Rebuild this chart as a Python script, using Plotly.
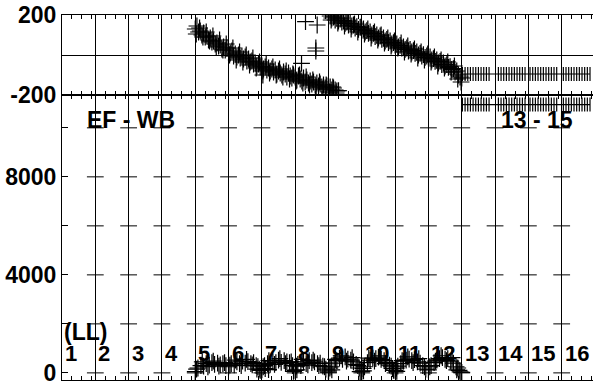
import plotly.graph_objects as go

# ---------------- data ----------------
col_labels = ["1", "2", "3", "4", "5", "6", "7", "8", "9", "10", "11", "12", "13", "14", "15", "16"]
col_pos = [1, 2, 3, 4, 5, 6, 7, 8, 9, 10, 11, 12, 13, 14, 15, 16]

phase_ticks = [-200, 0, 200]
phase_ticktext = ["-200", "", "200"]
amp_ticks = [0, 2000, 4000, 6000, 8000, 10000]
amp_ticktext = ["0", "", "4000", "", "8000", ""]

phase_a_x = [5.00, 5.05, 5.10, 5.15, 5.20, 5.25, 5.30, 5.35, 5.40, 5.45,
             5.50, 5.55, 5.60, 5.65, 5.70, 5.75, 5.80, 5.85, 5.90, 5.95,
             6.05, 6.10, 6.15, 6.20, 6.25, 6.30, 6.35, 6.40, 6.45, 6.50,
             6.55, 6.60, 6.65, 6.70, 6.75, 6.80, 6.85, 6.90, 6.95,
             7.00, 7.05, 7.10, 7.15, 7.20, 7.25, 7.30, 7.35, 7.40, 7.45,
             7.50, 7.55, 7.60, 7.65, 7.70, 7.75, 7.80, 7.85, 7.90, 7.95,
             8.00, 8.05, 8.10, 8.15, 8.20, 8.25, 8.30, 8.35, 8.40, 8.45,
             8.50, 8.55, 8.60, 8.65, 8.70, 8.75, 8.80, 8.85, 8.90, 8.95,
             9.00, 9.05, 9.10, 9.15, 9.20, 9.25, 9.30]
phase_a_y = [130, 145, 115, 120, 100, 110, 90, 95, 75, 85,
             65, 70, 55, 60, 45, 50, 30, 40, 25, 35,
             10, 20, -5, 5, -10, 0, -15, -5, -20, -10,
             -30, -20, -35, -30, -45, -40, -55, -45, -60,
             -55, -70, -60, -75, -65, -80, -70, -85, -75, -95,
             -80, -90, -100, -85, -95, -110, -90, -105, -115, -100,
             -110, -125, -105, -120, -130, -115, -135, -125, -140, -130,
             -145, -135, -150, -140, -155, -145, -160, -150, -165, -155,
             -170, -160, -175, -165, -175, -180, -178]

phase_a2_x = [5.03, 5.13, 5.23, 5.33, 5.43, 5.53, 5.63, 5.73, 5.83, 5.93,
              6.03, 6.13, 6.23, 6.33, 6.43, 6.53, 6.63, 6.73, 6.83, 6.93,
              7.03, 7.13, 7.23, 7.33, 7.43, 7.53, 7.63, 7.73, 7.83, 7.93,
              8.03, 8.13, 8.23, 8.33, 8.43, 8.53, 8.63, 8.73, 8.83, 8.93,
              9.03, 9.13, 9.23]
phase_a2_y = [105, 135, 90, 115, 70, 95, 40, 75, 25, 55,
              0, 35, -25, 15, -35, 0, -50, -15, -65, -35,
              -80, -45, -90, -60, -100, -70, -110, -80, -120, -95,
              -130, -100, -140, -110, -150, -125, -160, -135, -170, -150,
              -185, -160, -190]

phase_b_x = [9.05, 9.10, 9.15, 9.20, 9.25, 9.30, 9.35, 9.40, 9.45,
             9.50, 9.55, 9.60, 9.65, 9.70, 9.75, 9.80, 9.85, 9.90, 9.95,
             10.00, 10.05, 10.10, 10.15, 10.20, 10.25, 10.30, 10.35, 10.40, 10.45,
             10.50, 10.55, 10.60, 10.65, 10.70, 10.75, 10.80, 10.85, 10.90, 10.95,
             11.00, 11.05, 11.10, 11.15, 11.20, 11.25, 11.30, 11.35, 11.40, 11.45,
             11.50, 11.55, 11.60, 11.65, 11.70, 11.75, 11.80, 11.85, 11.90, 11.95,
             12.00, 12.05, 12.10, 12.15, 12.20, 12.25, 12.30, 12.35, 12.40, 12.45,
             12.50, 12.55, 12.60, 12.65, 12.70, 12.75, 12.80, 12.85, 12.90, 12.95,
             13.00]
phase_b_y = [195, 185, 190, 175, 185, 170, 180, 165, 172,
             158, 165, 150, 158, 145, 150, 135, 142, 128, 138,
             125, 130, 115, 122, 108, 115, 100, 108, 92, 100,
             85, 95, 78, 85, 70, 78, 62, 70, 55, 62,
             50, 55, 40, 48, 35, 40, 28, 35, 20, 28,
             15, 22, 8, 15, 0, 8, -5, 2, -12, -5,
             -15, -10, -25, -18, -32, -25, -40, -32, -48, -40,
             -55, -48, -62, -58, -72, -68, -85, -80, -100, -110,
             -115]

phase_b2_x = [9.08, 9.18, 9.28, 9.38, 9.48, 9.58, 9.68, 9.78, 9.88, 9.98,
              10.08, 10.18, 10.28, 10.38, 10.48, 10.58, 10.68, 10.78, 10.88, 10.98,
              11.08, 11.18, 11.28, 11.38, 11.48, 11.58, 11.68, 11.78, 11.88, 11.98,
              12.08, 12.18, 12.28, 12.38, 12.48, 12.58, 12.68, 12.78, 12.88, 12.98]
phase_b2_y = [175, 195, 160, 185, 145, 170, 130, 155, 115, 140,
              105, 130, 85, 115, 75, 100, 60, 85, 45, 70,
              35, 60, 15, 45, 5, 30, -15, 15, -25, 5,
              -35, -10, -55, -25, -65, -35, -85, -55, -120, -135]

phase_out_x = [8.31, 8.66, 8.62, 8.62, 8.19, 7.03]
phase_out_y = [167, 150, 35, 20, -42, -100]

flat_x = [13.02, 13.10, 13.18, 13.26, 13.34, 13.42, 13.50, 13.58, 13.66, 13.74, 13.82,
          14.10, 14.18, 14.26, 14.34, 14.42, 14.50, 14.58, 14.66, 14.74, 14.82, 14.90,
          15.05, 15.13, 15.21, 15.29, 15.37, 15.45, 15.53, 15.61, 15.69, 15.77, 15.85,
          16.05, 16.13, 16.21, 16.29, 16.37, 16.45, 16.53, 16.61, 16.69, 16.77, 16.85]
flat_phase_value = -95
flat_amp_value = 10950

amp_x = [5.00, 5.08, 5.17, 5.25, 5.33, 5.42, 5.50, 5.58, 5.67, 5.75, 5.83, 5.92,
         6.00, 6.08, 6.17, 6.25, 6.33, 6.42, 6.50, 6.58, 6.67, 6.75, 6.83, 6.92,
         7.00, 7.08, 7.17, 7.25, 7.33, 7.42, 7.50, 7.58, 7.67, 7.75, 7.83, 7.92,
         8.00, 8.08, 8.17, 8.25, 8.33, 8.42, 8.50, 8.58, 8.67, 8.75, 8.83, 8.92,
         9.00, 9.08, 9.17, 9.25, 9.33, 9.42, 9.50, 9.58, 9.67, 9.75, 9.83, 9.92,
         10.00, 10.08, 10.17, 10.25, 10.33, 10.42, 10.50, 10.58, 10.67, 10.75, 10.83, 10.92,
         11.00, 11.08, 11.17, 11.25, 11.33, 11.42, 11.50, 11.58, 11.67, 11.75, 11.83, 11.92,
         12.00, 12.08, 12.17, 12.25, 12.33, 12.42, 12.50, 12.58, 12.67, 12.75, 12.83, 12.92,
         13.00]
amp_y = [50, 200, 300, 280, 380, 320, 420, 350, 400, 330, 380, 300,
         250, 380, 330, 450, 380, 480, 400, 460, 380, 420, 300, 150,
         120, 300, 380, 350, 450, 420, 520, 430, 500, 450, 420, 300,
         100, 350, 300, 450, 380, 500, 420, 450, 380, 400, 280, 150,
         80, 250, 400, 500, 600, 550, 650, 560, 520, 450, 350, 200,
         60, 250, 420, 520, 600, 580, 640, 550, 500, 430, 320, 180,
         100, 280, 380, 480, 520, 560, 500, 540, 450, 400, 300, 150,
         120, 300, 420, 520, 580, 620, 550, 580, 480, 400, 250, 100,
         20]

amp2_x = [5.04, 5.21, 5.38, 5.54, 5.71, 5.88,
          6.04, 6.21, 6.38, 6.54, 6.71, 6.88,
          7.04, 7.21, 7.38, 7.54, 7.71, 7.88,
          8.04, 8.21, 8.38, 8.54, 8.71, 8.88,
          9.04, 9.21, 9.38, 9.54, 9.71, 9.88,
          10.04, 10.21, 10.38, 10.54, 10.71, 10.88,
          11.04, 11.21, 11.38, 11.54, 11.71, 11.88,
          12.04, 12.21, 12.38, 12.54, 12.71, 12.88]
amp2_y = [150, 450, 250, 480, 280, 420,
          320, 520, 300, 550, 330, 250,
          250, 500, 350, 580, 380, 450,
          280, 550, 330, 520, 300, 250,
          200, 550, 700, 480, 620, 300,
          180, 600, 480, 700, 380, 280,
          200, 500, 650, 420, 580, 250,
          250, 480, 700, 500, 620, 200]

amp_low_x = [6.85, 6.95, 7.10, 7.20, 7.95, 8.05, 9.00, 9.10, 9.95, 10.05, 10.95, 11.05, 12.85, 12.95]
amp_low_y = [150, 100, 180, 130, 60, 120, 30, 120, 50, 80, 100, 60, 120, 40]

minor_x = [c + f for c in col_pos for f in (0.3, 0.6, 0.9)]
grid_x = col_pos[1:]

# ---------------- figure ----------------
FONT = "Liberation Sans, Arial, sans-serif"
cross = dict(symbol="cross-thin-open", size=12, color="black",
             line=dict(color="black", width=1.2))
vtick = dict(symbol="line-ns-open", size=10, color="black",
             line=dict(color="black", width=1.2))

fig = go.Figure()

# grid "+" decorations in the amplitude panel
gx, gy = [], []
for v in amp_ticks:
    for c in grid_x:
        gx.append(c)
        gy.append(v)
fig.add_trace(go.Scatter(x=gx, y=gy, mode="markers", xaxis="x", yaxis="y",
                         marker=dict(symbol="line-ew-open", size=12, color="black",
                                     line=dict(color="black", width=1)),
                         hoverinfo="skip", showlegend=False))

# phase panel
for xs, ys in ((phase_a_x, phase_a_y), (phase_a2_x, phase_a2_y),
               (phase_b_x, phase_b_y), (phase_b2_x, phase_b2_y),
               (phase_out_x, phase_out_y)):
    fig.add_trace(go.Scatter(x=xs, y=ys, mode="markers", xaxis="x2", yaxis="y2",
                             marker=cross, showlegend=False))
fig.add_trace(go.Scatter(x=flat_x, y=[flat_phase_value] * len(flat_x), mode="lines+markers",
                         xaxis="x2", yaxis="y2",
                         line=dict(color="black", width=1.2), marker=vtick,
                         showlegend=False))

# amplitude panel
for xs, ys in ((amp_x, amp_y), (amp2_x, amp2_y), (amp_low_x, amp_low_y)):
    fig.add_trace(go.Scatter(x=xs, y=ys, mode="markers", xaxis="x", yaxis="y",
                             marker=cross, showlegend=False))
fig.add_trace(go.Scatter(x=flat_x, y=[flat_amp_value] * len(flat_x), mode="lines+markers",
                         xaxis="x", yaxis="y",
                         line=dict(color="black", width=1.2), marker=vtick,
                         showlegend=False))

xcommon = dict(range=[1, 16.94], showline=True, linecolor="black", linewidth=1,
               mirror="ticks", tickmode="array", tickvals=grid_x, showticklabels=False,
               ticks="", showgrid=True, gridcolor="black", gridwidth=1, zeroline=False,
               automargin=False,
               minor=dict(tickmode="array", tickvals=minor_x, ticks="inside", ticklen=4,
                          tickcolor="black", tickwidth=1, showgrid=False))

split = 285 / 365
tickfont = dict(family=FONT, size=23, color="black", weight="bold")

fig.update_layout(
    width=593, height=386,
    margin=dict(l=62, r=0, t=15, b=6),
    paper_bgcolor="white", plot_bgcolor="white",
    showlegend=False,
    xaxis=dict(anchor="y", side="bottom", **xcommon),
    xaxis2=dict(anchor="y2", side="top", matches="x", **xcommon),
    yaxis=dict(domain=[0, split], range=[-290, 11340], tickmode="array",
               tickvals=amp_ticks, ticktext=amp_ticktext, ticks="inside", ticklen=6,
               tickcolor="black", showline=True, linecolor="black", showgrid=False,
               zeroline=False, tickfont=tickfont, automargin=False,
               ticklabeloverflow="allow"),
    yaxis2=dict(domain=[split, 1], range=[-200, 200], tickmode="array",
                tickvals=phase_ticks, ticktext=phase_ticktext, ticks="",
                showline=True, linecolor="black", showgrid=True, gridcolor="black",
                zeroline=False, tickfont=tickfont, automargin=False,
                ticklabeloverflow="allow"),
)

annfont = dict(family=FONT, size=23, color="black", weight="bold")
anns = [
    dict(text="EF - WB", x=3.06, y=10300, xref="x", yref="y", showarrow=False,
         font=annfont, xanchor="center", yanchor="middle"),
    dict(text="13 - 15", x=15.26, y=10300, xref="x", yref="y", showarrow=False,
         font=annfont, xanchor="center", yanchor="middle"),
    dict(text="(LL)", x=1.0, y=1650, xref="x", yref="y", showarrow=False,
         font=annfont, xanchor="left", yanchor="middle"),
]
for lab, pos in zip(col_labels, col_pos):
    anns.append(dict(text=lab, x=pos + 0.03, y=800, xref="x", yref="y", showarrow=False,
                     font=dict(family=FONT, size=22, color="black", weight="bold"),
                     xanchor="left", yanchor="middle"))
fig.update_layout(annotations=anns)

# remove the default page margin so the figure fills the window exactly
fig.write_html("out.html", config={"displayModeBar": False},
               post_script="document.body.style.margin='0';document.body.style.padding='0';")
